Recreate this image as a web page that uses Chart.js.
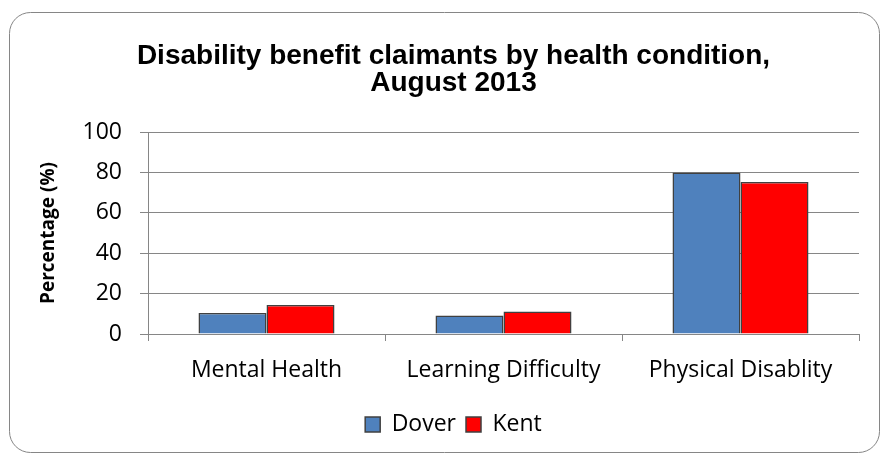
<!DOCTYPE html>
<html>
<head>
<meta charset="utf-8">
<script src="https://cdn.jsdelivr.net/npm/chart.js@4/dist/chart.umd.min.js"></script>
<style>
html,body{margin:0;padding:0;background:#fff;}
#wrap{width:881px;height:459px;position:relative;}
</style>
</head>
<body>
<div id="wrap"><canvas id="c" width="881" height="459"></canvas></div>
<script>
const categories = ["Mental Health", "Learning Difficulty", "Physical Disablity"];
const dover = [10.4, 9.2, 80];
const kent = [14.4, 11.1, 75.2];
const yTicks = [0, 20, 40, 60, 80, 100];
const titleLines = ["Disability benefit claimants by health condition,", "August 2013"];

const borderPlugin = {
  id: 'outerBorder',
  beforeDraw(chart) {
    const ctx = chart.ctx;
    ctx.save();
    ctx.fillStyle = '#fff';
    ctx.fillRect(0, 0, chart.width, chart.height);
    const x = 9.5, y = 12.5, w = 870, h = 440, r = 21;
    ctx.beginPath();
    ctx.moveTo(x + r, y);
    ctx.lineTo(x + w - r, y);
    ctx.arcTo(x + w, y, x + w, y + r, r);
    ctx.lineTo(x + w, y + h - r);
    ctx.arcTo(x + w, y + h, x + w - r, y + h, r);
    ctx.lineTo(x + r, y + h);
    ctx.arcTo(x, y + h, x, y + h - r, r);
    ctx.lineTo(x, y + r);
    ctx.arcTo(x, y, x + r, y, r);
    ctx.closePath();
    ctx.strokeStyle = '#868686';
    ctx.lineWidth = 1;
    ctx.stroke();
    ctx.restore();
  }
};

new Chart(document.getElementById('c'), {
  type: 'bar',
  data: {
    labels: categories,
    datasets: [
      { label: 'Dover', data: dover, backgroundColor: '#4F81BD', borderColor: '#404040', borderWidth: 1.5,
        categoryPercentage: 0.574, barPercentage: 1.0 },
      { label: 'Kent', data: kent, backgroundColor: '#FF0000', borderColor: '#404040', borderWidth: 1.5,
        categoryPercentage: 0.574, barPercentage: 1.0 }
    ]
  },
  options: {
    responsive: false,
    animation: false,
    devicePixelRatio: 1,
    layout: { padding: { left: 48, right: 22, top: 42.5, bottom: 13 } },
    plugins: {
      tooltip: { enabled: false },
      title: {
        display: true,
        text: titleLines,
        color: '#000',
        font: { family: 'Liberation Sans, Arial, sans-serif', size: 28, weight: 'bold', lineHeight: '27px' },
        padding: { top: 0, bottom: 35.5 }
      },
      legend: {
        display: true,
        position: 'bottom',
        labels: {
          color: '#000',
          font: { family: 'Open Sans, sans-serif', size: 23 },
          boxWidth: 15, boxHeight: 15, padding: 10,
          generateLabels(chart) {
            return chart.data.datasets.map((ds, i) => ({
              text: ds.label, fillStyle: ds.backgroundColor, strokeStyle: '#404040',
              lineWidth: 1.5, datasetIndex: i, hidden: false, fontColor: '#000'
            }));
          }
        }
      }
    },
    scales: {
      x: {
        offset: true,
        grid: { display: true, drawOnChartArea: false, drawTicks: true, tickLength: 7, offset: true, color: '#868686', lineWidth: 1 },
        border: { display: true, color: '#868686', width: 1 },
        ticks: { color: '#000', font: { family: 'Open Sans, sans-serif', size: 23 }, padding: 16, maxRotation: 0 },
        afterFit(scale) { scale.height = 69; }
      },
      y: {
        min: 0, max: 100,
        afterBuildTicks(scale) { scale.ticks = yTicks.map(v => ({ value: v })); },
        grid: { color: '#868686', lineWidth: 1, drawTicks: true, tickLength: 8 },
        border: { display: true, color: '#868686', width: 1 },
        ticks: { color: '#000', font: { family: 'Open Sans, sans-serif', size: 23 }, padding: 18 },
        title: {
          display: true, text: 'Percentage (%)', color: '#000',
          font: { family: 'Open Sans, sans-serif', size: 19, weight: 'bold', lineHeight: 1.2 },
          padding: { top: -11, bottom: 0 }
        },
        afterFit(scale) { scale.width = 100; }
      }
    }
  },
  plugins: [borderPlugin]
});
</script>
</body>
</html>
